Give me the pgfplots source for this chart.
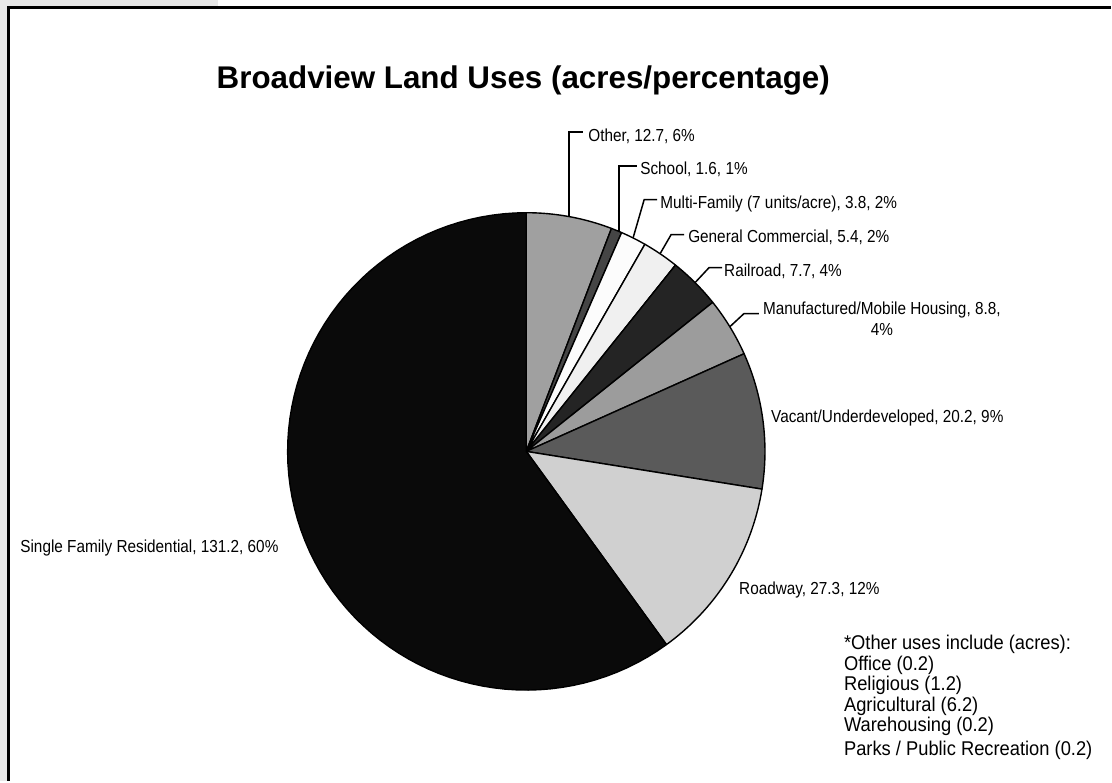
\documentclass[border=0pt]{standalone}
\usepackage{pgfplots}
\pgfplotsset{compat=1.18}
\usepackage{pgfplotstable}
\usepackage{fontspec}
\setmainfont{Liberation Sans}
\newfontfamily\narrow[FakeStretch=0.88]{Liberation Sans}
\newfontfamily\notefont[FakeStretch=0.92]{Liberation Sans}

\definecolor{cOther}{HTML}{A0A0A0}
\definecolor{cSchool}{HTML}{454545}
\definecolor{cMulti}{HTML}{FCFCFC}
\definecolor{cGen}{HTML}{F0F0F0}
\definecolor{cRail}{HTML}{242424}
\definecolor{cManu}{HTML}{9C9C9C}
\definecolor{cVac}{HTML}{5A5A5A}
\definecolor{cRoad}{HTML}{D0D0D0}
\definecolor{cSingle}{HTML}{0A0A0A}
\definecolor{bg}{HTML}{E8E8E8}

% land uses (acres), clockwise from 12 o'clock
\pgfplotstableread{
name acres
Other 12.7
School 1.6
MultiFamily 3.8
GeneralCommercial 5.4
Railroad 7.7
Manufactured 8.8
Vacant 20.2
Roadway 27.3
SingleFamily 131.2
}\landuse

\newcommand\getacres[1]{\pgfplotstablegetelem{#1}{acres}\of\landuse\pgfmathsetmacro\v{\pgfplotsretval}}
\pgfmathsetmacro\T{0}
\foreach \i in {0,...,8}{\getacres{\i}\pgfmathsetmacro\T{\T+\v}\xdef\T{\T}}
% cumulative angles (screen, y down): start at -90
\pgfmathsetmacro\c{-90}\xdef\angA{\c}
\getacres{0}\pgfmathsetmacro\c{\c+360*\v/\T}\xdef\angB{\c}
\getacres{1}\pgfmathsetmacro\c{\c+360*\v/\T}\xdef\angC{\c}
\getacres{2}\pgfmathsetmacro\c{\c+360*\v/\T}\xdef\angD{\c}
\getacres{3}\pgfmathsetmacro\c{\c+360*\v/\T}\xdef\angE{\c}
\getacres{4}\pgfmathsetmacro\c{\c+360*\v/\T}\xdef\angF{\c}
\getacres{5}\pgfmathsetmacro\c{\c+360*\v/\T}\xdef\angG{\c}
\getacres{6}\pgfmathsetmacro\c{\c+360*\v/\T}\xdef\angH{\c}
\getacres{7}\pgfmathsetmacro\c{\c+360*\v/\T}\xdef\angI{\c}
\xdef\angJ{270}

\def\cx{527}\def\cy{452}\def\R{239}
\newcommand\slice[3]{%
  \addplot[fill=#3, draw=black, line width=1.4pt, line join=round, domain=#1:#2, samples=80]
    ({\cx+\R*cos(x)},{\cy+\R*sin(x)}) -- (\cx,\cy) -- cycle;}

\begin{document}
\begin{tikzpicture}
\begin{axis}[
  width=1112bp, height=782bp, scale only axis,
  xmin=0, xmax=1112, ymin=0, ymax=782, y dir=reverse,
  hide axis, clip=false,
]
% background and frame
\fill[bg] (0,0) rectangle (218,7);
\fill[bg] (0,0) rectangle (8,782);
\draw[line width=3bp] (9,782) -- (9,7.5) -- (1112,7.5);

\slice{\angA}{\angB}{cOther}
\slice{\angB}{\angC}{cSchool}
\slice{\angC}{\angD}{cMulti}
\slice{\angD}{\angE}{cGen}
\slice{\angE}{\angF}{cRail}
\slice{\angF}{\angG}{cManu}
\slice{\angG}{\angH}{cVac}
\slice{\angH}{\angI}{cRoad}
\slice{\angI}{\angJ}{cSingle}

\node[font=\fontsize{31.5}{36}\selectfont\bfseries] at (524,81) {Broadview Land Uses (acres/percentage)};

\begin{scope}[line width=1.5bp]
\draw (570,217) -- (570,132) -- (584,132);
\draw (620,231) -- (620,166) -- (638,166);
\draw (634,238) -- (645,200) -- (658,200);
\draw (661,254) -- (672,235) -- (685,235);
\draw (696,283) -- (710,268) -- (723,268);
\draw (731,327) -- (745,314) -- (760,314);
\end{scope}

\begin{scope}[every node/.style={font=\narrow\fontsize{17.5}{21}\selectfont, inner sep=0pt}]
\node[anchor=west] at (589,136) {Other, 12.7, 6\%};
\node[anchor=west] at (641,170) {School, 1.6, 1\%};
\node[anchor=west] at (661,204) {Multi-Family (7 units/acre), 3.8, 2\%};
\node[anchor=west] at (689,238) {General Commercial, 5.4, 2\%};
\node[anchor=west] at (725,272) {Railroad, 7.7, 4\%};
\node[align=center] at (883,319) {Manufactured/Mobile Housing, 8.8,\\4\%};
\node[anchor=west] at (772,419) {Vacant/Underdeveloped, 20.2, 9\%};
\node[anchor=west] at (740,591) {Roadway, 27.3, 12\%};
\node[anchor=east] at (279,549) {Single Family Residential, 131.2, 60\%};
\end{scope}

\node[anchor=north west, align=left, inner sep=0pt, font=\notefont\fontsize{20}{20.6}\selectfont] at (845,636)
  {*Other uses include (acres):\\Office (0.2)\\Religious (1.2)\\Agricultural (6.2)\\Warehousing (0.2)\\[3pt]Parks / Public Recreation (0.2)};
\end{axis}
\end{tikzpicture}
\end{document}
